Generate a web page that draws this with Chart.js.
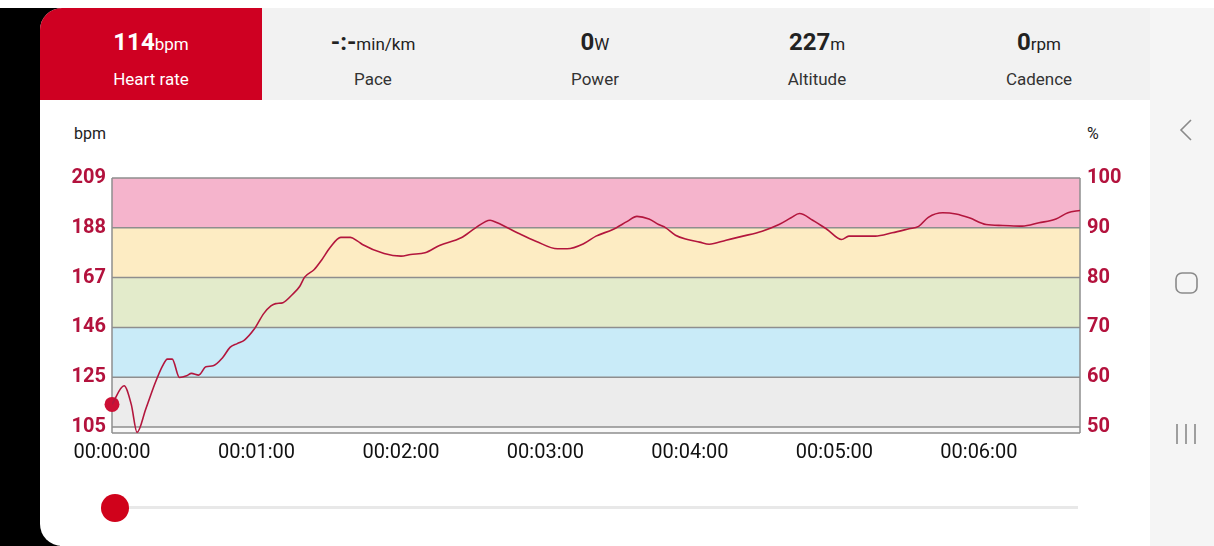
<!DOCTYPE html>
<html>
<head>
<meta charset="utf-8">
<script src="https://cdn.jsdelivr.net/npm/chart.js@4/dist/chart.umd.min.js"></script>
<style>
  html, body { margin: 0; padding: 0; }
  body { width: 1214px; height: 546px; position: relative; overflow: hidden; background: #fff; font-family: Roboto, "Noto Sans", sans-serif; }
  .black { position: absolute; left: 0; top: 8px; width: 60px; height: 538px; background: #000; }
  .header { position: absolute; left: 40px; top: 8px; width: 1110px; height: 92px; background: #f2f2f2; border-top-left-radius: 22px; overflow: hidden; }
  .panel { position: absolute; left: 40px; top: 100px; width: 1110px; height: 446px; background: #fff; border-bottom-left-radius: 22px; }
  .nav { position: absolute; left: 1150px; top: 8px; width: 64px; height: 538px; background: #f5f5f5; }
  .cell { position: absolute; top: 0; width: 222px; height: 92px; text-align: center; color: #222; }
  .cell.active { background: #cf0022; color: #fff; }
  .val { position: absolute; left: 0; right: 0; top: 20px; font-size: 24px; font-weight: 700; }
  .val small { font-size: 17px; font-weight: 400; }
  .lab { position: absolute; left: 0; right: 0; top: 61px; font-size: 17px; color: #333; }
  .cell.active .lab { color: #fff; }
  .unit { position: absolute; top: 124px; font-size: 16px; color: #222; }
  .track { position: absolute; left: 126px; top: 506px; width: 952px; height: 3px; background: #e8e8e8; }
  .knob { position: absolute; left: 101px; top: 494px; width: 28px; height: 28px; border-radius: 50%; background: #d0021b; }
  canvas { position: absolute; left: 0; top: 0; }
</style>
</head>
<body>
<div class="black"></div>
<div class="panel"></div>
<div class="header">
  <div class="cell active" style="left:0"><div class="val">114<small>bpm</small></div><div class="lab">Heart rate</div></div>
  <div class="cell" style="left:222px"><div class="val">-:-<small>min/km</small></div><div class="lab">Pace</div></div>
  <div class="cell" style="left:444px"><div class="val">0<small>W</small></div><div class="lab">Power</div></div>
  <div class="cell" style="left:666px"><div class="val">227<small>m</small></div><div class="lab">Altitude</div></div>
  <div class="cell" style="left:888px"><div class="val">0<small>rpm</small></div><div class="lab">Cadence</div></div>
</div>
<div class="nav">
  <svg width="64" height="538" style="position:absolute;left:0;top:0">
    <polyline points="41,112 31,122 41,132" fill="none" stroke="#8a8a8a" stroke-width="1.6"/>
    <rect x="26" y="265" width="21" height="20" rx="6" fill="none" stroke="#8a8a8a" stroke-width="1.6"/>
    <line x1="27" y1="416" x2="27" y2="436" stroke="#8a8a8a" stroke-width="1.6"/>
    <line x1="36" y1="416" x2="36" y2="436" stroke="#8a8a8a" stroke-width="1.6"/>
    <line x1="45" y1="416" x2="45" y2="436" stroke="#8a8a8a" stroke-width="1.6"/>
  </svg>
</div>
<div class="unit" style="left:74px">bpm</div>
<div class="unit" style="left:1087px">%</div>
<div class="track"></div>
<div class="knob"></div>
<canvas id="hr" width="1214" height="546"></canvas>

<script>
// heart rate samples (seconds, bpm)
const timeSec = [0, 5, 8, 10.4, 14, 18, 21, 23, 25, 28, 31, 33, 36, 39, 42, 46, 49, 52, 55, 59,
  63, 66, 68, 71, 75, 78, 80, 84, 87, 90.5, 95, 99, 102, 104, 113, 120, 124, 130, 136, 145,
  151, 157, 160, 169, 176, 185, 189, 196, 201, 208, 214, 218, 223, 227, 230, 234, 239, 244,
  248, 255, 262, 270, 277, 282, 285.5, 291, 297, 303, 306, 312, 317, 324, 331, 335, 339,
  345, 350.5, 356, 363, 370, 378, 385, 392, 397, 402];
const heartRate = [114, 121.8, 114, 102.3, 112, 123.2, 130.2, 133, 133, 125.3, 126, 127, 126.3, 129.8, 130.2, 133.7, 137.9, 139.5, 141, 145.5,
  152.1, 155.3, 156.3, 156.7, 160.2, 163.6, 167.4, 170.6, 174.5, 179.7, 184.1, 184.1, 182.5, 181.1, 177.3, 176.2, 176.9, 177.6, 180.7, 183.9,
  188.1, 191.3, 190.2, 185.7, 182.5, 179.3, 179.3, 181.5, 184.6, 187.4, 190.8, 192.9, 191.8, 189.5, 188.1, 185, 183.2, 182.1,
  181.2, 182.9, 184.6, 186.7, 189.5, 192.3, 194.1, 191.3, 187.4, 183.2, 184.6, 184.6, 184.6, 186, 187.7, 188.7, 192.5,
  194.4, 193.9, 192.3, 189.5, 189.1, 188.8, 190.2, 191.8, 194.4, 195.4];

// zone boundaries in bpm (50..100 % of 209) and band colours below each top boundary
const maxHr = 209;
const zoneBounds = [102, 104.5, 125.4, 146.3, 167.2, 188.1, 209];
const zoneColors = ['#f8f8f8', '#ececec', '#c9ebf8', '#e3ebcb', '#fdecc3', '#f5b4cc'];
const percentTicks = [50, 60, 70, 80, 90, 100];
const timeTicks = [0, 60, 120, 180, 240, 300, 360];
const current = { t: 0, bpm: 114 };

function fmtTime(s) {
  const m = Math.floor(s / 60), sec = s % 60;
  return '00:' + String(m).padStart(2, '0') + ':' + String(sec).padStart(2, '0');
}

const zonesPlugin = {
  id: 'zones',
  beforeDatasetsDraw(chart) {
    const { ctx, chartArea: a, scales } = chart;
    const y = scales.y;
    ctx.save();
    for (let i = 0; i < zoneColors.length; i++) {
      const top = y.getPixelForValue(zoneBounds[i + 1]);
      const bot = y.getPixelForValue(zoneBounds[i]);
      ctx.fillStyle = zoneColors[i];
      ctx.fillRect(a.left, top, a.right - a.left, bot - top);
    }
    ctx.strokeStyle = '#8e8e8e';
    ctx.lineWidth = 1.5;
    zoneBounds.forEach((v) => {
      const py = y.getPixelForValue(v);
      ctx.beginPath();
      ctx.moveTo(a.left, py);
      ctx.lineTo(a.right, py);
      ctx.stroke();
    });
    ctx.beginPath();
    ctx.moveTo(a.left, a.top);
    ctx.lineTo(a.left, a.bottom);
    ctx.moveTo(a.right, a.top);
    ctx.lineTo(a.right, a.bottom);
    ctx.stroke();
    ctx.restore();
  }
};

const tickColor = '#b3123d';
const ctx = document.getElementById('hr');
new Chart(ctx, {
  type: 'line',
  data: {
    datasets: [{
      data: timeSec.map((t, i) => ({ x: t, y: heartRate[i] })),
      borderColor: '#b3163d',
      borderWidth: 1.6,
      pointRadius: 0,
      cubicInterpolationMode: 'monotone',
      fill: false
    }, {
      data: [{ x: current.t, y: current.bpm }],
      showLine: false,
      pointRadius: 7.5,
      pointBackgroundColor: '#cc0f35',
      pointBorderWidth: 0,
      clip: false
    }]
  },
  plugins: [zonesPlugin],
  options: {
    responsive: false,
    animation: false,
    layout: { padding: { top: 178, left: 0, right: 0, bottom: 0 } },
    plugins: { legend: { display: false }, tooltip: { enabled: false } },
    scales: {
      x: {
        type: 'linear',
        min: 0,
        max: 402,
        grid: { display: false, drawTicks: false },
        border: { display: false },
        afterFit: (s) => { s.height = 113; },
        afterBuildTicks: (s) => { s.ticks = timeTicks.map((v) => ({ value: v })); },
        ticks: {
          padding: 8,
          maxRotation: 0,
          autoSkip: false,
          color: '#111',
          font: { family: 'Roboto', size: 20 },
          callback: (v) => fmtTime(v)
        }
      },
      y: {
        position: 'left',
        min: 102,
        max: maxHr,
        grid: { display: false, drawTicks: false },
        border: { display: false },
        afterFit: (s) => { s.width = 112; },
        afterBuildTicks: (s) => { s.ticks = zoneBounds.slice(1).map((v) => ({ value: v })); },
        ticks: {
          padding: 6,
          color: tickColor,
          font: { family: 'Roboto', size: 20, weight: 'bold' },
          callback: (v) => Math.round(v)
        }
      },
      y2: {
        position: 'right',
        min: 102 / maxHr * 100,
        max: 100,
        grid: { display: false, drawTicks: false },
        border: { display: false },
        afterFit: (s) => { s.width = 134; },
        afterBuildTicks: (s) => { s.ticks = percentTicks.map((v) => ({ value: v })); },
        ticks: {
          padding: 7,
          color: tickColor,
          font: { family: 'Roboto', size: 20, weight: 'bold' }
        }
      }
    }
  }
});
</script>
</body>
</html>
